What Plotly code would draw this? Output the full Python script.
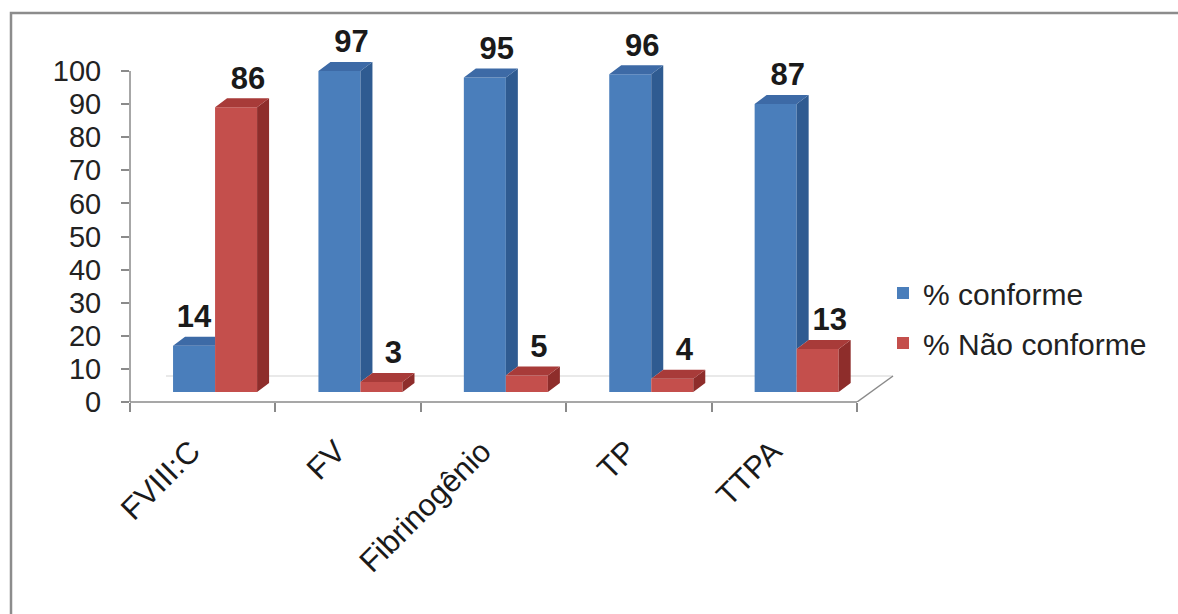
import plotly.graph_objects as go

# ---------------- data ----------------
categories = ["FVIII:C", "FV", "Fibrinogênio", "TP", "TTPA"]
conforme = [14, 97, 95, 96, 87]
nao_conforme = [86, 3, 5, 4, 13]
series_names = ["% conforme", "% Não conforme"]
y_tick_values = list(range(0, 101, 10))

# ---------------- styling / geometry ----------------
FONT = "Liberation Sans, Arial, sans-serif"
BLUE_FRONT, BLUE_SIDE, BLUE_TOP = "#4a7ebb", "#2f5b91", "#3d6aa6"
RED_FRONT, RED_SIDE, RED_TOP = "#c44f4c", "#8e2d2b", "#a83b39"
AXIS_COL = "#8a8a8a"

BAR_W = 0.289          # width of one bar (category units)
BLUE_OFF = -0.204      # left edge of blue bar relative to category centre
RED_OFF = BLUE_OFF + BAR_W
DX = 0.0825            # 3-D depth, x (category units)
DY = 2.72              # 3-D depth, y (value units)
LABEL_GAP = 0.6
TICKLABEL_SHIFT = 0.08  # rotated category labels sit slightly left of centre

# pixel layout of the plot area
L, R, T, B = 130, 900, 40, 402
PX_PER_CAT = 145.4
PX_PER_VAL = 3.31
FRONT_SHIFT = 10  # px: front faces sit below the axis origin

W = R - L
H = B - T
x_range = [-0.5, -0.5 + W / PX_PER_CAT]
y_range = [0, H / PX_PER_VAL]
y2_range = [-FRONT_SHIFT / PX_PER_VAL, (H - FRONT_SHIFT) / PX_PER_VAL]

xs = list(range(len(categories)))

fig = go.Figure()

# dummy trace so the base axis pair exists
fig.add_trace(go.Scatter(x=[None], y=[None], showlegend=False, hoverinfo="skip"))

# front faces
fig.add_trace(go.Bar(x=xs, y=conforme, width=BAR_W, offset=BLUE_OFF, yaxis="y2",
                     name=series_names[0], marker=dict(color=BLUE_FRONT, line=dict(width=0)),
                     legendgroup="a"))
fig.add_trace(go.Bar(x=xs, y=nao_conforme, width=BAR_W, offset=RED_OFF, yaxis="y2",
                     name=series_names[1], marker=dict(color=RED_FRONT, line=dict(width=0)),
                     legendgroup="b"))


def poly_trace(xpts, ypts, color):
    return go.Scatter(x=xpts, y=ypts, yaxis="y2", mode="lines", fill="toself",
                      fillcolor=color, line=dict(width=0, color=color),
                      showlegend=False, hoverinfo="skip")


bs_x, bs_y, bt_x, bt_y = [], [], [], []
rs_x, rs_y, rt_x, rt_y = [], [], [], []
lab_x, lab_y, lab_t = [], [], []
for i, (vb, vr) in enumerate(zip(conforme, nao_conforme)):
    bl = i + BLUE_OFF
    br = bl + BAR_W
    rl = br
    rr = rl + BAR_W
    # blue side (only the part above the red bar)
    if vr < vb:
        bs_x += [br, br + DX, br + DX, br, None]
        bs_y += [vr, vr + DY, vb + DY, vb, None]
        bt_x += [bl, bl + DX, br + DX, br, None]
        bt_y += [vb, vb + DY, vb + DY, vb, None]
    else:
        bt_x += [bl, bl + DX, br, br, None]
        bt_y += [vb, vb + DY, vb + DY, vb, None]
    # red side and top
    rs_x += [rr, rr + DX, rr + DX, rr, None]
    rs_y += [0, DY, vr + DY, vr, None]
    rt_x += [rl, rl + DX, rr + DX, rr, None]
    rt_y += [vr, vr + DY, vr + DY, vr, None]
    # labels
    lab_x.append((bl + br) / 2 + (DX if vr < vb else 0))
    lab_y.append(vb + DY + LABEL_GAP)
    lab_t.append(str(vb))
    lab_x.append((rl + rr) / 2 + DX)
    lab_y.append(vr + DY + LABEL_GAP)
    lab_t.append(str(vr))

fig.add_trace(poly_trace(bs_x, bs_y, BLUE_SIDE))
fig.add_trace(poly_trace(bt_x, bt_y, BLUE_TOP))
fig.add_trace(poly_trace(rs_x, rs_y, RED_SIDE))
fig.add_trace(poly_trace(rt_x, rt_y, RED_TOP))

fig.add_trace(go.Scatter(x=lab_x, y=lab_y, yaxis="y2", mode="text", text=lab_t,
                         textposition="top center", cliponaxis=False,
                         textfont=dict(family=FONT, size=31, color="#1a1a1a", weight="bold"),
                         showlegend=False, hoverinfo="skip"))

n = len(categories)
boundaries = [k - 0.5 for k in range(n + 1)]
floor_dx = 36 / PX_PER_CAT
floor_dy = 26 / PX_PER_VAL


def px_to_paper_x(px):
    return (px - L) / W


def py_to_paper_y(py):
    return (B - py) / H


shapes = [
    # floor back edge (faint)
    dict(type="line", xref="x", yref="y", x0=-0.5 + floor_dx, x1=n - 0.5 + floor_dx,
         y0=floor_dy, y1=floor_dy, line=dict(color="#e2e2e2", width=1.5), layer="below"),
    # floor right edge
    dict(type="line", xref="x", yref="y", x0=n - 0.5, x1=n - 0.5 + floor_dx,
         y0=0, y1=floor_dy, line=dict(color=AXIS_COL, width=1.5)),
    # x axis line
    dict(type="line", xref="x", yref="paper", x0=-0.5, x1=n - 0.5, y0=0, y1=0,
         line=dict(color=AXIS_COL, width=1.5)),
    # y axis line
    dict(type="line", xref="paper", yref="y", x0=0, x1=0, y0=0, y1=100,
         line=dict(color=AXIS_COL, width=1.5)),
    # outer frame
    dict(type="rect", xref="paper", yref="paper",
         x0=px_to_paper_x(11), x1=px_to_paper_x(1190),
         y0=py_to_paper_y(630), y1=py_to_paper_y(13),
         line=dict(color="#8c8c8c", width=2.5), fillcolor="rgba(0,0,0,0)"),
]

fig.update_layout(
    width=1178, height=614,
    margin=dict(l=L, r=1178 - R, t=T, b=614 - B, autoexpand=False),
    paper_bgcolor="white", plot_bgcolor="white",
    barmode="overlay",
    font=dict(family=FONT, color="#222222"),
    shapes=shapes,
    showlegend=True,
    legend=dict(xref="container", yref="container", x=(925 - 42) / 1178, y=1 - 318 / 614,
                xanchor="left", yanchor="middle", font=dict(size=30, color="#222222"),
                bgcolor="rgba(0,0,0,0)", tracegroupgap=8, traceorder="grouped"),
    xaxis=dict(range=x_range, tickvals=[x - TICKLABEL_SHIFT for x in xs], ticktext=categories,
               ticks="", tickangle=-45,
               showline=False, showgrid=False, zeroline=False,
               tickfont=dict(size=31, color="#1a1a1a"), ticklabelstandoff=24,
               minor=dict(tickvals=boundaries, ticks="outside", ticklen=9,
                          tickcolor=AXIS_COL, tickwidth=1.5, showgrid=False)),
    yaxis=dict(range=y_range, tickvals=y_tick_values, ticks="outside", ticklen=8,
               tickcolor=AXIS_COL, tickwidth=1.5, showline=False, showgrid=False,
               zeroline=False, tickfont=dict(size=29, color="#222222"),
               ticklabelstandoff=14),
    yaxis2=dict(range=y2_range, overlaying="y", visible=False, showgrid=False,
                zeroline=False),
)

fig.write_html("out.html")
